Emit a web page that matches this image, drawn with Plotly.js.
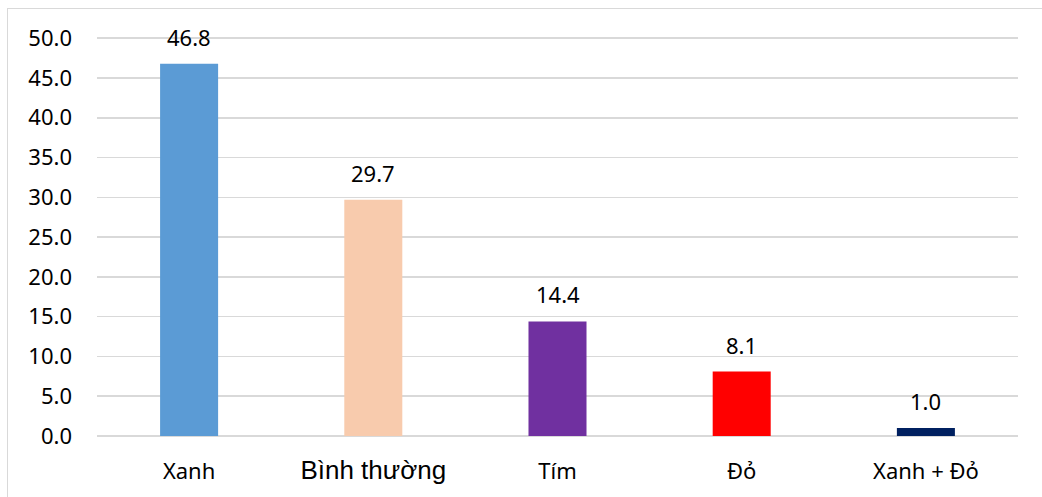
<!DOCTYPE html>
<html>
<head>
<meta charset="utf-8">
<script src="https://cdn.plot.ly/plotly-3.0.1.min.js"></script>
<style>
  html, body { margin: 0; padding: 0; background: #fff; }
  #wrap { position: relative; width: 1042px; height: 497px; }
  #chart { position: absolute; left: 0; top: 0; width: 1042px; height: 497px; }
  #frame { position: absolute; left: 7px; top: 8px; width: 1040px; height: 500px;
           border: 1.5px solid #d9d9d9; box-sizing: border-box; pointer-events: none; }
</style>
</head>
<body>
<div id="wrap">
  <div id="chart"></div>
  <div id="frame"></div>
</div>
<script>
// Share by colour group (%)
const categories = ["Xanh", "Bình thường", "Tím", "Đỏ", "Xanh + Đỏ"];
const values = [46.8, 29.7, 14.4, 8.1, 1.0];
const barColors = ["#5B9BD5", "#F8CBAD", "#7030A0", "#FF0000", "#002060"];

const baseFont = "'Noto Sans', 'Open Sans', sans-serif";
const baseSize = 22;

// "Bình thường" is set in a larger Arial-style face
const tickText = categories.map(c => c === "Bình thường"
  ? '<span style="font-family:\'Liberation Sans\', Arial, sans-serif; font-size:26px">' + c + '</span>'
  : c);

const trace = {
  type: "bar",
  x: categories,
  y: values,
  marker: { color: barColors, line: { width: 0 } },
  hoverinfo: "x+y"
};

const labels = categories.map((c, i) => ({
  x: c,
  y: values[i],
  xref: "x",
  yref: "y",
  text: values[i].toFixed(1),
  showarrow: false,
  yanchor: "bottom",
  yshift: 10,
  font: { family: baseFont, size: baseSize, color: "#000" }
}));

const layout = {
  width: 1042,
  height: 497,
  margin: { l: 97, r: 24, t: 35, b: 61 },
  paper_bgcolor: "#ffffff",
  plot_bgcolor: "#ffffff",
  showlegend: false,
  bargap: 0.685,
  font: { family: baseFont, size: baseSize, color: "#000" },
  xaxis: {
    type: "category",
    tickmode: "array",
    tickvals: categories,
    ticktext: tickText,
    showgrid: false,
    showline: false,
    ticks: "",
    ticklabelstandoff: 20,
    tickfont: { family: baseFont, size: baseSize, color: "#000" }
  },
  yaxis: {
    range: [0, 50.4],
    tickmode: "linear",
    dtick: 5,
    tick0: 0,
    tickformat: ".1f",
    showgrid: true,
    gridcolor: "#d9d9d9",
    gridwidth: 1.5,
    zeroline: true,
    zerolinecolor: "#d9d9d9",
    zerolinewidth: 1.5,
    showline: false,
    ticks: "",
    ticklabelstandoff: 24,
    tickfont: { family: baseFont, size: baseSize, color: "#000" }
  },
  annotations: labels
};

Plotly.newPlot("chart", [trace], layout, { displayModeBar: false, staticPlot: true });
</script>
</body>
</html>
